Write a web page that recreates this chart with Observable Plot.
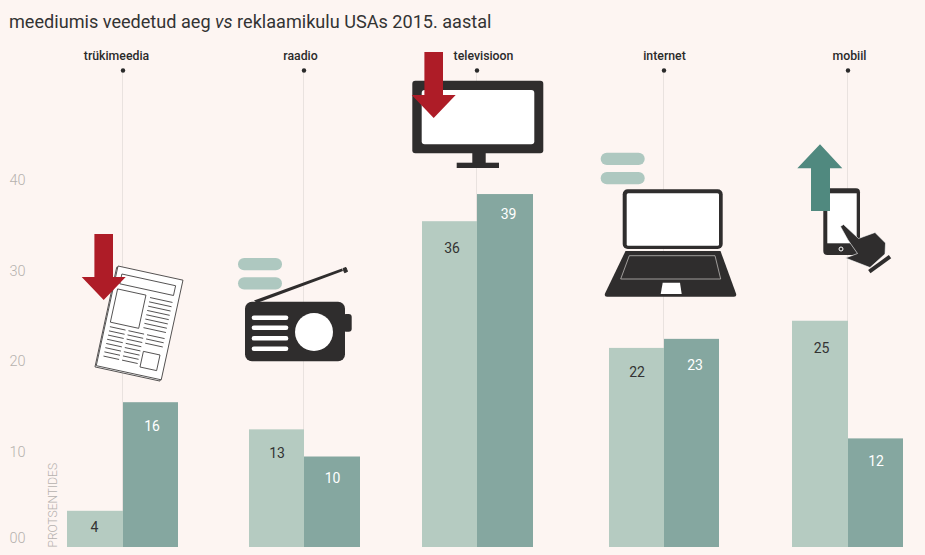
<!DOCTYPE html>
<html lang="et">
<head>
<meta charset="utf-8">
<script src="https://cdn.jsdelivr.net/npm/d3@7"></script>
<script src="https://cdn.jsdelivr.net/npm/@observablehq/plot@0.6"></script>
<style>
  html, body { margin: 0; padding: 0; background: #fdf5f2; }
  #title { height: 40px; box-sizing: border-box; padding: 10px 0 0 9px; font: 400 18.1px/24px Roboto, sans-serif; color: #333; white-space: nowrap; }
  #title i { font-style: italic; }
  svg { display: block; }
</style>
</head>
<body>
<div id="title">meediumis veedetud aeg <i>vs</i> reklaamikulu USAs 2015. aastal</div>
<div id="chart"></div>
<script>
const categories = ["trükimeedia", "raadio", "televisioon", "internet", "mobiil"];
const timeShare = [4, 13, 36, 22, 25];
const adShare = [16, 10, 39, 23, 12];
const yTicks = [10, 20, 30, 40];

// layout lists, in pixels
const xEdges = [67, 123, 178, 249, 304, 360, 422, 477, 533, 609, 664, 719, 792, 848, 903];
const headShift = [-7, -4, 6, 0, 1];
const timeDrop = [16, 24, 27, 24, 27];
const adDrop = [24, 22, 20, 26, 23];
const timeNudge = [-1, 0, 2, 0, 1];
const adNudge = [1, 0, 3, 3, 0];
const stemTop = 52.7;

const INK = "#2f2d2d", LIGHT = "#b5cbc1", DARK = "#85a7a0", RED = "#ae1c27", TEAL = "#50897f", PILL = "#aec8c0";

const down = (cx, top) => `<path fill="${RED}" d="M${cx-9.3} ${top}H${cx+9.3}V${top+43}H${cx+22}L${cx} ${top+66}L${cx-22} ${top+43}H${cx-9.3}Z"/>`;
const pills = (x, y) => `<rect x="${x}" y="${y}" width="44" height="12.3" rx="6.1" fill="${PILL}"/><rect x="${x}" y="${y+19.3}" width="44" height="12.3" rx="6.1" fill="${PILL}"/>`;

function newspaper() {
  let lines = "";
  for (let k = 0; k < 8; k++) lines += `<path d="M38 ${24 + k*4.4}H61"/>`;
  for (let k = 0; k < 8; k++) {
    const y = 61 + k*4.3;
    lines += `<path d="M5 ${y}H21M24 ${y}H40"/>`;
    if (k < 3) lines += `<path d="M43 ${y}H61"/>`;
  }
  return `<g transform="translate(118 266) rotate(12.3)" stroke="#3a3838" stroke-width=".8" fill="#fff">
    <rect x="-1" y="1.5" width="66.5" height="102"/>
    <rect x="0" y="0" width="66.5" height="102"/>
    <rect x="5.5" y="7" width="55" height="10"/>
    <rect x="4.5" y="22.5" width="29" height="34"/>
    <rect x="43" y="78" width="17" height="16"/>
    ${lines}
  </g>`;
}

const iconMarkup = `
  ${newspaper()}
  ${down(103.7, 234)}
  ${pills(238, 258)}
  <g fill="${INK}">
    <path d="M254 300.5L342 268.5L343 271L257 303Z"/>
    <path d="M343 268.5l3-1 1.5 4-3 1.2Z" stroke="${INK}" stroke-width="1"/>
    <rect x="343" y="314" width="8.7" height="17.7" rx="3"/>
    <rect x="245" y="301.7" width="100" height="59.6" rx="7"/>
  </g>
  <g fill="#fff">
    <circle cx="314" cy="332" r="19"/>
    <rect x="251.7" y="315.4" width="36.6" height="4.6" rx="2.2"/>
    <rect x="251.7" y="325.4" width="36.6" height="4.6" rx="2.2"/>
    <rect x="251.7" y="336" width="36.6" height="4.6" rx="2.2"/>
    <rect x="251.7" y="346.4" width="36.6" height="4.6" rx="2.2"/>
  </g>
  <g fill="${INK}">
    <rect x="412.3" y="80.7" width="131" height="72.6" rx="3"/>
    <rect x="472.3" y="153" width="13.4" height="10"/>
    <rect x="456.7" y="162.7" width="42.3" height="5.3"/>
  </g>
  <rect x="421.7" y="90" width="112.6" height="54.3" rx="3" fill="#fff"/>
  ${down(433.7, 52)}
  ${pills(600.7, 152.7)}
  <rect x="622.7" y="189.3" width="100" height="59.7" rx="5" fill="${INK}"/>
  <rect x="626.7" y="193.3" width="92.3" height="52.4" rx="1.5" fill="#fff"/>
  <path d="M625.5 251H720.5L736 293.5Q737 296.7 734 296.7H607Q604 296.7 605 293.5Z" fill="${INK}"/>
  <path d="M629.3 255.7H715L720.7 279H620.7Z" fill="none" stroke="#bdb9b6" stroke-width=".8"/>
  <path d="M662.7 282.7H680L681.7 294H660.7Z" fill="#fff"/>
  <rect x="823.3" y="188.3" width="36.7" height="66.7" rx="4" fill="${INK}"/>
  <rect x="827.3" y="193.3" width="29.4" height="50" fill="#fff"/>
  <circle cx="841" cy="249" r="2" fill="none" stroke="#fff" stroke-width="1"/>
  <path d="M840.5 226.5L843.5 224.5L858.5 238.5L875 232.5L885.5 243L885 254L870 267.5L845.5 258L857.5 253.5L848 240Z" fill="${INK}" stroke="#fff" stroke-width=".6"/>
  <path d="M869.3 271.7L890 256.7" stroke="${INK}" stroke-width="4"/>
  <path d="M820 144.3L842.3 168.3H830V211H811V168.3H797.3Z" fill="${TEAL}"/>
`;

const table = categories.map((name, i) => ({name, i, time: timeShare[i], ad: adShare[i]}));

const valueMarks = table.flatMap(d => [
  Plot.text([d], {x: 3*d.i + 0.5, y: "time", text: "time", dx: timeNudge[d.i], dy: timeDrop[d.i], fill: "#333", fontSize: 14}),
  Plot.text([d], {x: 3*d.i + 1.5, y: "ad", text: "ad", dx: adNudge[d.i], dy: adDrop[d.i], fill: "#fff", fontSize: 14})
]);
const headMarks = table.map(d =>
  Plot.text([d], {x: 3*d.i + 1, y: stemTop, text: "name", dx: headShift[d.i], dy: -15, fill: "#2a2a2a", fontSize: 12.3, fontWeight: 500})
);

const chart = Plot.plot({
  width: 925,
  height: 515,
  marginLeft: 0, marginRight: 0, marginTop: 0, marginBottom: 0,
  style: {background: "transparent", fontFamily: "Roboto, sans-serif"},
  x: {type: "linear", axis: null, domain: xEdges.map((_, k) => k), range: xEdges},
  y: {domain: [0, 40], range: [507, 145]},
  marks: [
    Plot.axisY(yTicks, {anchor: "left", label: null, tickSize: 0, tickPadding: 0, textAnchor: "start", dx: 9, dy: -5, fontSize: 14.5, fontWeight: 300, fill: "#b5b1ae", tickFormat: d => String(d)}),
    Plot.axisY([0], {anchor: "left", label: null, tickSize: 0, tickPadding: 0, textAnchor: "start", dx: 9, dy: -9, fontSize: 14.5, fontWeight: 300, fill: "#b5b1ae", tickFormat: () => "00"}),
    Plot.ruleX(table, {x: d => 3*d.i + 1, y1: 0, y2: stemTop, dx: -1, stroke: "#e9e2df", strokeWidth: 1}),
    Plot.dot(table, {x: d => 3*d.i + 1, y: stemTop, dx: -0.5, r: 2.2, fill: "#2a2a2a"}),
    () => {
      const g = document.createElementNS("http://www.w3.org/2000/svg", "g");
      g.setAttribute("transform", "translate(0,-40)");
      g.innerHTML = iconMarkup;
      return g;
    },
    Plot.rectY(table, {x1: d => 3*d.i, x2: d => 3*d.i + 1, y1: 0, y2: "time", fill: LIGHT}),
    Plot.rectY(table, {x1: d => 3*d.i + 1, x2: d => 3*d.i + 2, y1: 0, y2: "ad", fill: DARK}),
    ...valueMarks,
    ...headMarks,
    Plot.text(["PROTSENTIDES"], {y: 0, frameAnchor: "left", dx: 53, rotate: -90, textAnchor: "start", fill: "#b5b1ae", fontSize: 12, fontWeight: 300})
  ]
});
document.getElementById("chart").append(chart);
</script>
</body>
</html>
